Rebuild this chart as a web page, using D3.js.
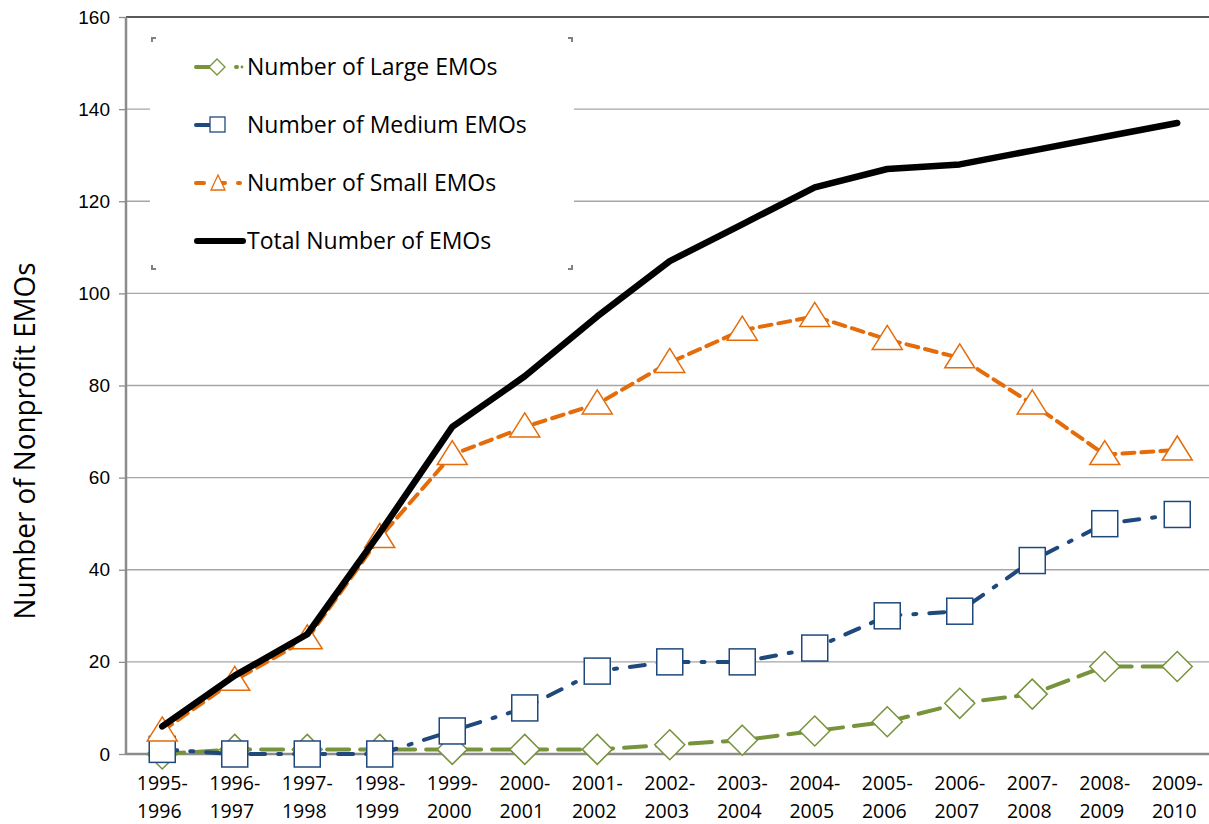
<!DOCTYPE html>
<html>
<head>
<meta charset="utf-8">
<script src="https://cdn.jsdelivr.net/npm/d3@7"></script>
<style>
  body { margin: 0; background: #fff; }
  svg { display: block; font-family: "Open Sans", "Liberation Sans", sans-serif; }
  .tick text { fill: #000; }
</style>
</head>
<body>
<div id="chart"></div>
<script>
var svgWidth = 1209;
var svgHeight = 824;

// Data
var years = ["1995-1996", "1996-1997", "1997-1998", "1998-1999", "1999-2000",
    "2000-2001", "2001-2002", "2002-2003", "2003-2004", "2004-2005",
    "2005-2006", "2006-2007", "2007-2008", "2008-2009", "2009-2010"];
var largeEMOs = [0, 1, 1, 1, 1, 1, 1, 2, 3, 5, 7, 11, 13, 19, 19];
var mediumEMOs = [1, 0, 0, 0, 5, 10, 18, 20, 20, 23, 30, 31, 42, 50, 52];
var smallEMOs = [5, 16, 25, 47, 65, 71, 76, 85, 92, 95, 90, 86, 76, 65, 66];
var totalEMOs = [6, 17, 26, 48, 71, 82, 95, 107, 115, 123, 127, 128, 131, 134, 137];
var yTicks = [0, 20, 40, 60, 80, 100, 120, 140, 160];

var series = [
    { name: "Number of Large EMOs", values: largeEMOs, color: "#77933c", dash: "22,11", width: 4, marker: "diamond" },
    { name: "Number of Medium EMOs", values: mediumEMOs, color: "#1f497d", dash: "15,13,3,13", width: 4, marker: "square" },
    { name: "Number of Small EMOs", values: smallEMOs, color: "#e46c0a", dash: "12,7", width: 4, marker: "triangle" },
    { name: "Total Number of EMOs", values: totalEMOs, color: "#000000", dash: null, width: 6.5, marker: null }
];

var margin = { top: 17, left: 126, bottom: 70 };
var bandW = 72.5;
var plotRight = margin.left + bandW * years.length;
var plotBottom = svgHeight - margin.bottom;

var svg = d3.select("#chart").append("svg")
    .attr("width", svgWidth)
    .attr("height", svgHeight);

var x = d3.scaleBand().domain(years).range([margin.left, plotRight]);
var y = d3.scaleLinear().domain([0, 160]).range([plotBottom, margin.top]);
function cx(i) { return x(years[i]) + x.bandwidth() / 2; }

// gridlines
svg.append("g")
    .selectAll("line")
    .data(yTicks.filter(function (d) { return d > 0; }))
    .enter().append("line")
    .attr("x1", margin.left).attr("x2", svgWidth)
    .attr("y1", function (d) { return y(d); })
    .attr("y2", function (d) { return y(d); })
    .attr("stroke", function (d) { return d === 160 ? "#222" : "#a6a6a6"; })
    .attr("stroke-width", function (d) { return d === 160 ? 1.5 : 1.3; });

// y axis
var yAxis = d3.axisLeft(y).tickValues(yTicks).tickSize(7).tickPadding(9);
var yG = svg.append("g")
    .attr("transform", "translate(" + margin.left + ",0)")
    .call(yAxis);
yG.select(".domain").attr("stroke", "#8c8c8c").attr("stroke-width", 2.5).attr("d", "M0," + y(160) + "V" + y(0));
yG.selectAll(".tick line").attr("stroke", "#8c8c8c").attr("stroke-width", 1.3);
yG.selectAll(".tick text").attr("font-size", 19);

// x baseline
svg.append("line")
    .attr("x1", margin.left).attr("x2", svgWidth)
    .attr("y1", y(0)).attr("y2", y(0))
    .attr("stroke", "#8c8c8c").attr("stroke-width", 2.5);

// x labels (two lines)
var xLab = svg.append("g").selectAll("text").data(years).enter().append("text")
    .attr("text-anchor", "middle")
    .attr("font-size", 19.5)
    .attr("fill", "#000");
xLab.append("tspan")
    .attr("x", function (d) { return x(d) + x.bandwidth() / 2; })
    .attr("y", plotBottom + 36)
    .text(function (d) { return d.split("-")[0] + "-"; });
xLab.append("tspan")
    .attr("x", function (d) { return x(d) + x.bandwidth() / 2 - 3; })
    .attr("y", plotBottom + 64)
    .text(function (d) { return d.split("-")[1]; });

// y title
svg.append("text")
    .attr("transform", "translate(35," + 441 + ")rotate(-90)")
    .attr("text-anchor", "middle")
    .attr("font-size", 29)
    .attr("textLength", 357)
    .attr("lengthAdjust", "spacingAndGlyphs")
    .attr("fill", "#000")
    .text("Number of Nonprofit EMOs");

function drawMarker(g, type, color, px, py) {
    if (type === "diamond") {
        g.append("path")
            .attr("d", "M" + px + "," + (py - 15) + "L" + (px + 15) + "," + py + "L" + px + "," + (py + 15) + "L" + (px - 15) + "," + py + "Z")
            .attr("fill", "#fff").attr("stroke", color).attr("stroke-width", 1.5);
    } else if (type === "square") {
        g.append("rect")
            .attr("x", px - 13).attr("y", py - 13).attr("width", 26).attr("height", 26)
            .attr("fill", "#fff").attr("stroke", color).attr("stroke-width", 1.5);
    } else if (type === "triangle") {
        g.append("path")
            .attr("d", "M" + px + "," + (py - 14) + "L" + (px + 15) + "," + (py + 10) + "L" + (px - 15) + "," + (py + 10) + "Z")
            .attr("fill", "#fff").attr("stroke", color).attr("stroke-width", 1.5);
    }
}

var line = d3.line()
    .x(function (d, i) { return cx(i); })
    .y(function (d) { return y(d); });

series.forEach(function (s) {
    var g = svg.append("g");
    g.append("path")
        .attr("d", line(s.values))
        .attr("fill", "none")
        .attr("stroke", s.color)
        .attr("stroke-width", s.width)
        .attr("stroke-linecap", "round")
        .attr("stroke-linejoin", "round")
        .attr("stroke-dasharray", s.dash);
    if (s.marker) {
        s.values.forEach(function (v, i) {
            drawMarker(g, s.marker, s.color, cx(i), y(v));
        });
    }
});

// Legend
var lg = svg.append("g");
lg.append("rect")
    .attr("x", 150).attr("y", 36).attr("width", 424).attr("height", 235)
    .attr("fill", "#fff");
// corner handles
var corners = [[152, 38, 1, 1], [572, 38, -1, 1], [152, 269, 1, -1], [572, 269, -1, -1]];
corners.forEach(function (c) {
    lg.append("path")
        .attr("d", "M" + c[0] + "," + (c[1] + 4 * c[3]) + "V" + c[1] + "H" + (c[0] + 4 * c[2]))
        .attr("fill", "none").attr("stroke", "#808080").attr("stroke-width", 2);
});

series.forEach(function (s, i) {
    var ly = 67 + i * 58;
    var item = lg.append("g");
    if (s.marker) {
        item.append("line")
            .attr("x1", 196).attr("x2", 240).attr("y1", ly).attr("y2", ly)
            .attr("stroke", s.color).attr("stroke-width", 4)
            .attr("stroke-linecap", "round")
            .attr("stroke-dasharray", s.marker === "triangle" ? "8,13" : (s.marker === "diamond" ? "16,24,1,200" : "14,200"));
        var g2 = item.append("g");
        if (s.marker === "diamond") {
            g2.append("path").attr("d", "M217," + (ly - 8) + "L225," + ly + "L217," + (ly + 8) + "L209," + ly + "Z")
                .attr("fill", "#fff").attr("stroke", s.color).attr("stroke-width", 1.3);
            item.append("circle").attr("cx", 242).attr("cy", ly).attr("r", 1.4).attr("fill", s.color);
        } else if (s.marker === "square") {
            g2.append("rect").attr("x", 210).attr("y", ly - 8).attr("width", 15).attr("height", 15)
                .attr("fill", "#fff").attr("stroke", s.color).attr("stroke-width", 1.3);
        } else {
            g2.append("path").attr("d", "M218," + (ly - 8) + "L225," + (ly + 7) + "L211," + (ly + 7) + "Z")
                .attr("fill", "#fff").attr("stroke", s.color).attr("stroke-width", 1.3);
        }
    } else {
        item.append("line")
            .attr("x1", 197).attr("x2", 243).attr("y1", ly).attr("y2", ly)
            .attr("stroke", s.color).attr("stroke-width", 6)
            .attr("stroke-linecap", "round");
    }
    item.append("text")
        .attr("x", 247).attr("y", ly + 8)
        .attr("font-size", 23)
        .attr("fill", "#000")
        .text(s.name);
});
</script>
</body>
</html>
